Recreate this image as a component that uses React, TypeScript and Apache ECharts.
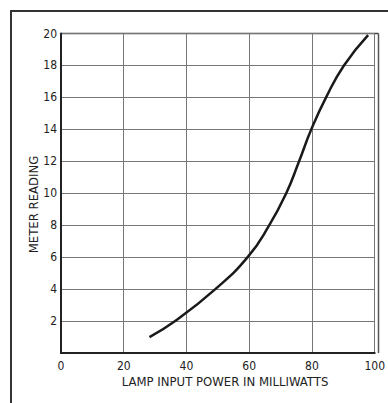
import React, { useEffect, useRef } from "react";
import * as echarts from "echarts";

const powerMw = [28.2, 36.4, 49.2, 59.5, 66.4, 71.8, 75.9, 79.8, 84.5, 90.2, 97.9];
const meterReading = [1, 2, 4, 6, 8, 10, 12, 14, 16, 18, 19.9];
const xTicks = [0, 20, 40, 60, 80, 100];
const yTicks = [2, 4, 6, 8, 10, 12, 14, 16, 18, 20];
const xTitle = "LAMP INPUT POWER IN MILLIWATTS";
const yTitle = "METER READING";

const FONT = "'DejaVu Sans Condensed', 'Liberation Sans Narrow', 'DejaVu Sans', sans-serif";

export default function App() {
  const ref = useRef<HTMLDivElement>(null);
  useEffect(() => {
    const chart = echarts.init(ref.current!, null, { renderer: "svg" });
    const data = powerMw.map((x, i) => [x, meterReading[i]]);
    chart.setOption({
      animation: false,
      backgroundColor: "#ffffff",
      grid: { left: 61, right: 9.5, top: 33.5, bottom: 50, containLabel: false },
      xAxis: {
        type: "value",
        min: 0,
        max: 100,
        interval: 20,
        axisLine: { show: true, lineStyle: { color: "#222", width: 2 } },
        axisTick: { show: false },
        axisLabel: {
          fontFamily: FONT,
          fontSize: 12,
          color: "#222",
          margin: 7,
          formatter: (v: number) => (xTicks.includes(v) ? String(v) : ""),
        },
        splitLine: { show: true, lineStyle: { color: "#777", width: 1 } },
      },
      yAxis: {
        type: "value",
        min: 0,
        max: 20,
        interval: 2,
        axisLine: { show: true, lineStyle: { color: "#222", width: 2 } },
        axisTick: { show: false },
        axisLabel: {
          fontFamily: FONT,
          fontSize: 12,
          color: "#222",
          margin: 4,
          formatter: (v: number) => (yTicks.includes(v) ? String(v) : ""),
        },
        splitLine: { show: true, lineStyle: { color: "#777", width: 1 } },
      },
      graphic: [
        { type: "line", shape: { x1: 10, y1: 11, x2: 388, y2: 11 }, style: { stroke: "#333", lineWidth: 2 } },
        { type: "line", shape: { x1: 11, y1: 11, x2: 11, y2: 403 }, style: { stroke: "#333", lineWidth: 2 } },
        { type: "line", shape: { x1: 378.5, y1: 33.5, x2: 378.5, y2: 353 }, style: { stroke: "#555", lineWidth: 1.5 } },
        { type: "line", shape: { x1: 61, y1: 33.5, x2: 378.5, y2: 33.5 }, style: { stroke: "#444", lineWidth: 1.5 } },
        {
          type: "text",
          x: 225,
          y: 381,
          style: {
            text: xTitle,
            fill: "#222",
            fontFamily: FONT,
            fontSize: 13,
            align: "center",
            verticalAlign: "middle",
          },
        },
        {
          type: "text",
          x: 33,
          y: 204.5,
          rotation: Math.PI / 2,
          style: {
            text: yTitle,
            fill: "#222",
            fontFamily: FONT,
            fontSize: 13,
            align: "center",
            verticalAlign: "middle",
          },
        },
      ],
      series: [
        {
          type: "line",
          data,
          smooth: 0.5,
          showSymbol: false,
          lineStyle: { color: "#1a1a1a", width: 2.5 },
        },
      ],
    });
    return () => chart.dispose();
  }, []);
  return <div ref={ref} style={{ width: 388, height: 403, position: "absolute", left: 0, top: 0 }} />;
}
